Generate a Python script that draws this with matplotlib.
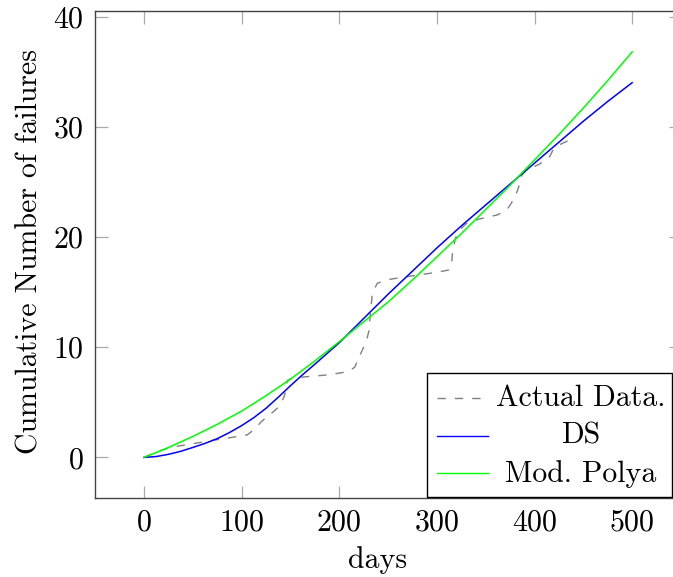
import matplotlib
matplotlib.use("Agg")
from matplotlib import pyplot as plt
from matplotlib.lines import Line2D
from matplotlib.patches import Rectangle

# DATOS

dias_ds = [0, 12.5, 25, 37.5, 50, 62.5, 75, 87.5, 100, 112.5, 125, 137.5,
           150, 162.5, 175, 200, 225, 250, 275, 300, 325, 350, 375, 400,
           425, 450, 475, 500]
ds = [0.0, 0.08, 0.28, 0.55, 0.9, 1.27, 1.7, 2.25, 2.88, 3.6, 4.45, 5.45,
      6.5, 7.5, 8.45, 10.4, 12.6, 14.8, 16.9, 19.0, 21.0, 22.9, 24.8, 26.7,
      28.6, 30.5, 32.3, 34.0]

dias_polya = [0, 25, 50, 75, 100, 125, 150, 175, 200, 225, 250,
              275, 300, 325, 350, 375, 400, 425, 450, 475, 500]
polya = [0.0, 0.9, 1.9, 3.0, 4.2, 5.6, 7.1, 8.75, 10.5, 12.3, 14.1,
         16.1, 18.2, 20.3, 22.5, 24.7, 27.0, 29.3, 31.7, 34.2, 36.8]

dias_real = [0, 15, 29, 56, 74, 94, 106, 113, 121, 132, 139, 144, 147, 152,
             170, 190, 210, 216, 219, 224, 228, 230.5, 232, 234, 239, 248,
             265, 285, 300, 312, 315, 316, 319, 324, 330, 342, 362, 372,
             378, 383, 387, 392, 405, 415, 419, 424, 436, 440]
fallos_real = [0.0, 0.57, 0.94, 1.33, 1.6, 1.87, 2.05, 2.54, 3.3, 4.1, 4.65,
               5.6, 7.0, 7.2, 7.35, 7.5, 7.8, 8.2, 8.8, 9.8, 10.6, 11.5,
               13.1, 14.9, 15.8, 16.1, 16.35, 16.6, 16.8, 17.0, 17.4, 18.5,
               19.9, 20.7, 21.2, 21.6, 22.0, 22.5, 23.3, 24.3, 25.6, 26.1,
               26.6, 27.2, 27.9, 28.3, 28.8, 29.0]

xticks = [0, 100, 200, 300, 400, 500]
yticks = [0, 10, 20, 30, 40]

# ESTILO

plt.rcParams["font.family"] = "cmr10"
plt.rcParams["mathtext.fontset"] = "cm"
plt.rcParams["axes.formatter.use_mathtext"] = True
plt.rcParams["lines.scale_dashes"] = False

W, H = 673, 577
fig = plt.figure(figsize=(W / 100, H / 100), dpi=100)


def fx(px):
    return px / W


def fy(py):
    return 1 - py / H


ax = fig.add_axes([fx(95), fy(498), fx(681) - fx(95), fy(11) - fy(498)])

ax.plot(dias_real, fallos_real, color="#808080", linewidth=1.0,
        dashes=(6, 6.5))
ax.plot(dias_ds, ds, color="#0000ff", linewidth=1.1)
ax.plot(dias_polya, polya, color="#00ff00", linewidth=1.1)

ax.set_xlim(-50, 550)
ax.set_ylim(-3.68, 40.5)
ax.set_xticks(xticks)
ax.set_yticks(yticks)
ax.tick_params(direction="in", top=True, right=True, length=9,
               width=0.9, color="#aaaaaa", labelsize=21.5, pad=8)
for s in ax.spines.values():
    s.set_color("#444444")
    s.set_linewidth(1.0)

fig.text(fx(378), fy(560), "days", fontsize=21.5, ha="center", va="center")
fig.text(fx(30), fy(252), "Cumulative Number of failures", fontsize=21.5,
         ha="center", va="center", rotation=90)

# LEYENDA (texto centrado como en pgfplots)

fig.add_artist(Rectangle((fx(427), fy(497)), fx(672) - fx(427),
                         fy(373) - fy(497), transform=fig.transFigure,
                         facecolor="white", edgecolor="black", linewidth=1.0,
                         zorder=5))
entradas = [("Actual Data.", "#808080", (6, 6.5), 398, 406),
            ("DS", "#0000ff", None, 436, 444),
            ("Mod. Polya", "#00ff00", None, 473, 482)]
for txt, col, dash, yl, yb in entradas:
    ln = Line2D([fx(437), fx(488)], [fy(yl), fy(yl)], color=col,
                linewidth=1.0, transform=fig.transFigure, zorder=6)
    if dash:
        ln.set_dashes(dash)
    fig.add_artist(ln)
    fig.text(fx(581), fy(yb), txt, fontsize=21.5, ha="center",
             va="baseline", zorder=6)

fig.savefig("out.png", dpi=100)
